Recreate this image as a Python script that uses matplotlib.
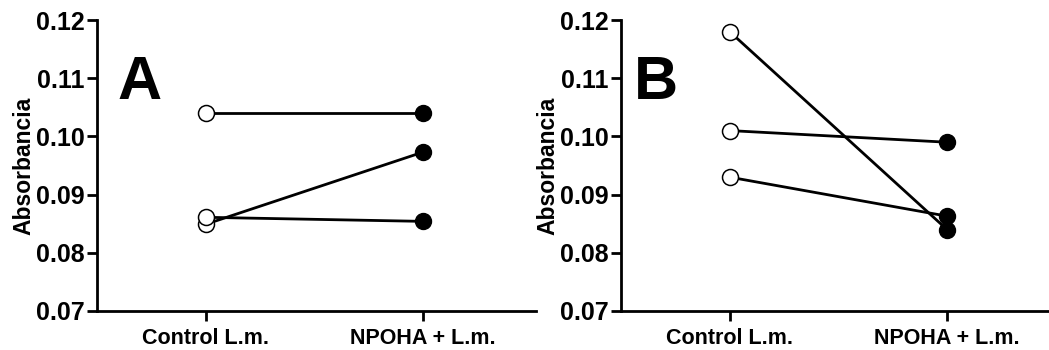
import matplotlib.pyplot as plt

plt.rcParams['font.family'] = ['Liberation Sans', 'DejaVu Sans']
plt.rcParams['font.weight'] = 'bold'

categories = ['Control L.m.', 'NPOHA + L.m.']
yticks = [0.07, 0.08, 0.09, 0.10, 0.11, 0.12]

# each pair: (control, NPOHA)
a_control = [0.1041, 0.0849, 0.0861]
a_npoha = [0.1041, 0.0973, 0.0854]

b_control = [0.1180, 0.1010, 0.0930]
b_npoha = [0.0840, 0.0990, 0.0863]

fig = plt.figure(figsize=(10.49, 3.5), dpi=100)
W = 1049
H = 350

panels = [('A', a_control, a_npoha, 97, 0.047), ('B', b_control, b_npoha, 621, 0.03)]

for letter, ctrl, npo, left, lx in panels:
    ax = fig.add_axes([left / W, 1 - 311 / H, 439 / W, 291 / H])
    for c, n in zip(ctrl, npo):
        ax.plot([0, 1], [c, n], color='black', lw=2, zorder=2)
    ax.plot([0] * len(ctrl), ctrl, 'o', ms=11.5, mfc='white', mec='black', mew=1.1, zorder=3)
    ax.plot([1] * len(npo), npo, 'o', ms=11.5, mfc='black', mec='black', zorder=3)
    ax.set_xlim(-0.5, 1.52)
    ax.set_ylim(0.07, 0.12)
    ax.set_yticks(yticks)
    ax.set_yticklabels(['%.2f' % t for t in yticks])
    ax.set_xticks([0, 1])
    ax.set_xticklabels(categories)
    ax.spines['top'].set_visible(False)
    ax.spines['right'].set_visible(False)
    for s in ['left', 'bottom']:
        ax.spines[s].set_linewidth(2)
    ax.tick_params(width=2, length=7)
    ax.tick_params(axis='y', labelsize=18, pad=2)
    ax.tick_params(axis='x', labelsize=15.5, pad=5)
    for lab in ax.get_xticklabels() + ax.get_yticklabels():
        lab.set_fontweight('bold')
    ax.set_ylabel('Absorbancia', fontsize=16.5, fontweight='bold', labelpad=0)
    ax.text(lx, 0.727, letter, transform=ax.transAxes,
            fontsize=44, fontweight='bold', va='baseline', ha='left')

plt.savefig('out.png', dpi=100)
